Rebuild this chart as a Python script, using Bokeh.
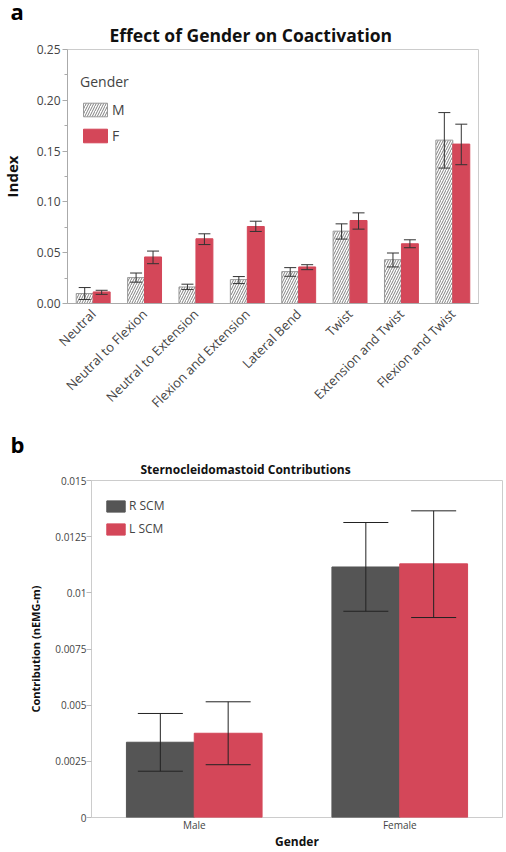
from math import pi
from bokeh.plotting import figure
from bokeh.models import (ColumnDataSource, Whisker, TeeHead, Legend, LegendItem,
                          Title, FixedTicker, NumeralTickFormatter)
from bokeh.transform import dodge
from bokeh.layouts import column
from bokeh.embed import file_html
from bokeh.resources import INLINE

# ---------------- data: panel a ----------------
movements = ["Neutral", "Neutral to Flexion", "Neutral to Extension", "Flexion and Extension",
             "Lateral Bend", "Twist", "Extension and Twist", "Flexion and Twist"]
m_mean = [0.0098, 0.0255, 0.0163, 0.0235, 0.0314, 0.0712, 0.0431, 0.1608]
m_upper = [0.0157, 0.0300, 0.0190, 0.0265, 0.0353, 0.0784, 0.0497, 0.1879]
m_lower = [0.0039, 0.0210, 0.0137, 0.0196, 0.0268, 0.0634, 0.0360, 0.1333]
f_mean = [0.0114, 0.0458, 0.0637, 0.0758, 0.0360, 0.0817, 0.0588, 0.1569]
f_upper = [0.0130, 0.0516, 0.0686, 0.0810, 0.0382, 0.0892, 0.0627, 0.1765]
f_lower = [0.0090, 0.0392, 0.0580, 0.0709, 0.0333, 0.0732, 0.0549, 0.1366]
a_ticks = [0.0, 0.05, 0.10, 0.15, 0.20, 0.25]
a_minor = [0.025, 0.075, 0.125, 0.175, 0.225]

# ---------------- data: panel b ----------------
genders = ["Male", "Female"]
r_scm = [0.00335, 0.01115]
r_scm_upper = [0.00463, 0.01313]
r_scm_lower = [0.00206, 0.00918]
l_scm = [0.00375, 0.01129]
l_scm_upper = [0.00515, 0.01365]
l_scm_lower = [0.00235, 0.00890]
b_ticks = [0.0, 0.0025, 0.005, 0.0075, 0.01, 0.0125, 0.015]

RED = "#d44759"
DARK = "#555555"
FONT = "Open Sans"
TXT = "#444444"

# =============== panel a ===============
src_a = ColumnDataSource(dict(cat=movements, m=m_mean, mu=m_upper, ml=m_lower,
                              f=f_mean, fu=f_upper, fl=f_lower))
p1 = figure(x_range=movements, y_range=(0, 0.25), width=528, height=428,
            output_backend="svg", toolbar_location=None,
            min_border_left=91, min_border_right=2, min_border_top=0, min_border_bottom=125)
p1.margin = (0, 0, 0, -24)
p1.title = Title(text="a", align="left", offset=-57, text_font=FONT, text_font_size="22px",
                 text_font_style="bold", text_color="#000000", standoff=-13.4)
p1.add_layout(Title(text="Effect of Gender on Coactivation", align="left", offset=42,
                    text_font=FONT, text_font_size="17.5px", text_font_style="bold",
                    text_color="#111111", standoff=4.4), "above")
p1.xgrid.visible = False
p1.ygrid.visible = False
p1.outline_line_color = "#cccccc"

xm = dodge("cat", -0.165, range=p1.x_range)
xf = dodge("cat", 0.165, range=p1.x_range)
rm = p1.vbar(x=xm, top="m", width=0.33, source=src_a, fill_color="white", line_color="#999999",
             hatch_pattern="/", hatch_color="#808080", hatch_scale=5, hatch_weight=1)
rf = p1.vbar(x=xf, top="f", width=0.33, source=src_a, fill_color=RED, line_color=RED)
for base, up, lo in [(xm, "mu", "ml"), (xf, "fu", "fl")]:
    w = Whisker(base=base, upper=up, lower=lo, source=src_a, line_color="#333333", line_width=1,
                level="overlay",
                upper_head=TeeHead(size=12, line_color="#333333", line_width=1),
                lower_head=TeeHead(size=12, line_color="#333333", line_width=1))
    p1.add_layout(w)

p1.yaxis.ticker = FixedTicker(ticks=a_ticks, minor_ticks=a_minor)
p1.yaxis.formatter = NumeralTickFormatter(format="0.00")
p1.yaxis.major_label_text_font = FONT
p1.yaxis.major_label_text_font_size = "12px"
p1.yaxis.major_label_text_color = TXT
p1.yaxis.major_tick_out = 5
p1.yaxis.major_tick_in = 0
p1.yaxis.minor_tick_out = 3
p1.yaxis.minor_tick_in = 0
p1.yaxis.major_label_standoff = 2
p1.yaxis.axis_line_color = "#aaaaaa"
p1.yaxis.major_tick_line_color = "#aaaaaa"
p1.yaxis.minor_tick_line_color = "#aaaaaa"
p1.yaxis.axis_label = "Index"
p1.yaxis.axis_label_text_font = FONT
p1.yaxis.axis_label_text_font_style = "bold"
p1.yaxis.axis_label_text_font_size = "15px"
p1.yaxis.axis_label_text_color = "#111111"
p1.yaxis.axis_label_standoff = 12

p1.xaxis.major_label_orientation = pi / 4
p1.xaxis.major_label_text_font = FONT
p1.xaxis.major_label_text_font_size = "13px"
p1.xaxis.major_label_text_color = TXT
p1.xaxis.major_tick_line_color = None
p1.xaxis.major_tick_out = 0
p1.xaxis.major_tick_in = 0
p1.xaxis.axis_line_color = "#aaaaaa"
p1.xaxis.major_label_standoff = 8

leg_a = Legend(items=[LegendItem(label="M", renderers=[rm]), LegendItem(label="F", renderers=[rf])],
               title="Gender", location=(13, 158), orientation="vertical",
               glyph_width=30, glyph_height=17, label_height=17, label_standoff=2, spacing=7,
               padding=0, margin=0, border_line_color=None, background_fill_alpha=0,
               label_text_font=FONT, label_text_font_size="14px", label_text_color=TXT,
               title_text_font=FONT, title_text_font_size="14px", title_text_font_style="normal",
               title_text_color=TXT, title_standoff=9)
p1.add_layout(leg_a)

# =============== panel b ===============
src_b = ColumnDataSource(dict(g=genders, r=r_scm, ru=r_scm_upper, rl=r_scm_lower,
                              l=l_scm, lu=l_scm_upper, ll=l_scm_lower))
p2 = figure(x_range=genders, y_range=(0, 0.015), width=504, height=424,
            output_backend="svg", toolbar_location=None,
            min_border_left=91, min_border_right=2, min_border_top=0, min_border_bottom=32)
p2.title = Title(text="b", align="left", offset=-81, text_font=FONT, text_font_size="22px",
                 text_font_style="bold", text_color="#000000", standoff=-4.1)
p2.add_layout(Title(text="Sternocleidomastoid Contributions", align="left", offset=49,
                    text_font=FONT, text_font_size="12px", text_font_style="bold",
                    text_color="#111111", standoff=4.8), "above")
p2.xgrid.visible = False
p2.ygrid.visible = False
p2.outline_line_color = "#cccccc"

xr = dodge("g", -0.165, range=p2.x_range)
xl = dodge("g", 0.165, range=p2.x_range)
rr = p2.vbar(x=xr, top="r", width=0.33, source=src_b, fill_color=DARK, line_color=DARK)
rl_ = p2.vbar(x=xl, top="l", width=0.33, source=src_b, fill_color=RED, line_color=RED)
for base, up, lo in [(xr, "ru", "rl"), (xl, "lu", "ll")]:
    w = Whisker(base=base, upper=up, lower=lo, source=src_b, line_color="#222222", line_width=1,
                level="overlay",
                upper_head=TeeHead(size=45, line_color="#222222", line_width=1),
                lower_head=TeeHead(size=45, line_color="#222222", line_width=1))
    p2.add_layout(w)

p2.yaxis.ticker = FixedTicker(ticks=b_ticks, minor_ticks=[])
p2.yaxis.formatter = NumeralTickFormatter(format="0.[0000]")
p2.yaxis.major_label_text_font = FONT
p2.yaxis.major_label_text_font_size = "10px"
p2.yaxis.major_label_text_color = TXT
p2.yaxis.major_tick_out = 5
p2.yaxis.major_tick_in = 0
p2.yaxis.major_label_standoff = 0
p2.yaxis.axis_line_color = None
p2.yaxis.major_tick_line_color = "#bbbbbb"
p2.yaxis.axis_label = "Contribution (nEMG-m)"
p2.yaxis.axis_label_text_font = FONT
p2.yaxis.axis_label_text_font_style = "bold"
p2.yaxis.axis_label_text_font_size = "11px"
p2.yaxis.axis_label_text_color = "#111111"
p2.yaxis.axis_label_standoff = 9

p2.xaxis.major_label_text_font = FONT
p2.xaxis.major_label_text_font_size = "10px"
p2.xaxis.major_label_text_color = TXT
p2.xaxis.major_tick_line_color = None
p2.xaxis.major_tick_out = 0
p2.xaxis.major_tick_in = 0
p2.xaxis.minor_tick_out = 0
p2.xaxis.axis_line_color = None
p2.xaxis.major_label_standoff = 0
p2.xaxis.axis_label = "Gender"
p2.xaxis.axis_label_text_font = FONT
p2.xaxis.axis_label_text_font_style = "bold"
p2.xaxis.axis_label_text_font_size = "12px"
p2.xaxis.axis_label_text_color = "#111111"
p2.xaxis.axis_label_standoff = -2

leg_b = Legend(items=[LegendItem(label="R SCM", renderers=[rr]), LegendItem(label="L SCM", renderers=[rl_])],
               location=(13, 280), orientation="vertical",
               glyph_width=23, glyph_height=14, label_height=14, label_standoff=2, spacing=6,
               padding=0, margin=0, border_line_color=None, background_fill_alpha=0,
               label_text_font=FONT, label_text_font_size="12px", label_text_color=TXT)
p2.add_layout(leg_b)

layout = column(p1, p2)
open("out.html", "w").write(file_html(layout, INLINE))
